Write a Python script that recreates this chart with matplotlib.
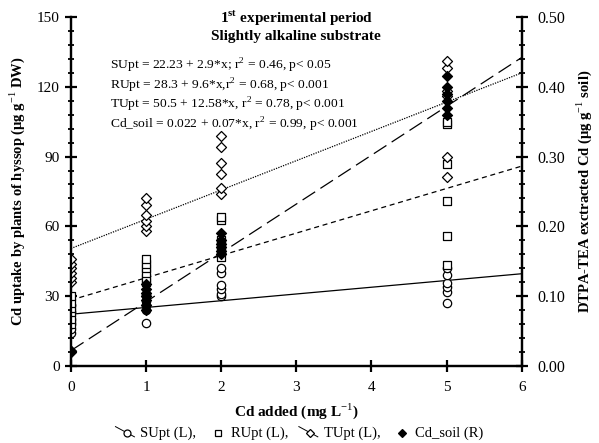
import matplotlib
matplotlib.use("Agg")
import matplotlib.pyplot as plt
from matplotlib.ticker import MultipleLocator, FormatStrFormatter
from matplotlib.lines import Line2D
import numpy as np

plt.rcParams['font.family'] = ['Liberation Serif', 'DejaVu Serif']
plt.rcParams['mathtext.fontset'] = 'custom'
plt.rcParams['mathtext.rm'] = 'Liberation Serif'
plt.rcParams['mathtext.bf'] = 'Liberation Serif:bold'

# Cd added levels of each sample group
doses = [0, 1, 2, 5]

# shoot uptake (circles, left axis)
supt = [[14, 16, 18, 20, 23, 26],
        [18.4, 24, 26, 28, 30, 31],
        [30, 31, 33, 35, 40, 42],
        [27, 31.7, 34, 35.6, 39, 42]]
# root uptake (squares, left axis)
rupt = [[18, 20, 23, 25, 27, 30],
        [36, 38, 40, 42, 44, 46],
        [46.7, 50, 52, 54, 62.6, 64],
        [43.3, 55.7, 70.7, 87, 104, 105]]
# total uptake (open diamonds, left axis)
tupt = [[36, 38, 40, 42, 44, 46],
        [58, 60, 62.5, 65, 69, 72],
        [73.7, 76.7, 82.7, 87.4, 94, 99],
        [81.4, 90, 116, 118, 128, 131]]
# DTPA-TEA soil Cd (filled diamonds, right axis)
cdsoil = [[0.020, 0.021, 0.022],
          [0.080, 0.088, 0.095, 0.100, 0.105, 0.110, 0.118],
          [0.160, 0.165, 0.170, 0.175, 0.180, 0.190],
          [0.360, 0.370, 0.380, 0.390, 0.400, 0.415]]

# regression lines (intercept, slope)
fit_supt = (22.23, 2.9)
fit_rupt = (28.3, 9.6)
fit_tupt = (50.5, 12.58)
fit_soil = (0.022, 0.07)

eq_lines = [r"SUpt = 22.23 + 2.9*x; r$^2$ = 0.46, p< 0.05",
            r"RUpt = 28.3 + 9.6*x,r$^2$ = 0.68, p< 0.001",
            r"TUpt = 50.5 + 12.58*x, r$^2$ = 0.78, p< 0.001",
            r"Cd_soil = 0.022 + 0.07*x, r$^2$ = 0.99, p< 0.001"]


def flat(groups):
    xs, ys = [], []
    for d, g in zip(doses, groups):
        xs += [d] * len(g)
        ys += list(g)
    return xs, ys


class DiagHandler:
    # marker with a short diagonal stroke through it, like the original legend
    def __init__(self, diag):
        self.diag = diag

    def legend_artist(self, legend, orig, fontsize, handlebox):
        x0, y0 = handlebox.xdescent, handlebox.ydescent
        w, h = handlebox.width, handlebox.height
        if self.diag:
            ln = Line2D([x0, x0 + w], [y0 + h, y0], color='black', lw=0.7,
                        transform=handlebox.get_transform())
            handlebox.add_artist(ln)
        m = Line2D([x0 + w * 0.6], [y0 + h * 0.4], ls='none', marker=orig.get_marker(),
                   mfc=orig.get_markerfacecolor(), mec='black', ms=orig.get_markersize(),
                   mew=0.9, transform=handlebox.get_transform())
        handlebox.add_artist(m)
        return m


fig = plt.figure(figsize=(5.99, 4.43), dpi=100)
ax = fig.add_axes([0.1185, 0.174, 0.7525, 0.7876])
ax2 = ax.twinx()

xl = np.array([0, 6])
mk = dict(s=36, linewidths=0.9, zorder=3)

x, y = flat(supt)
ax.scatter(x, y, marker='o', facecolors='white', edgecolors='black', **mk)
x, y = flat(rupt)
ax.scatter(x, y, marker='s', facecolors='white', edgecolors='black', **mk)
x, y = flat(tupt)
ax.scatter(x, y, marker='D', facecolors='white', edgecolors='black', s=26, linewidths=0.9, zorder=3)
x, y = flat(cdsoil)
ax2.scatter(x, y, marker='D', facecolors='black', edgecolors='black', s=26, linewidths=0.9, zorder=3)

ax.plot(xl, fit_supt[0] + fit_supt[1] * xl, color='black', lw=0.9)
ax.plot(xl, fit_rupt[0] + fit_rupt[1] * xl, color='black', lw=0.9, ls=(0, (4, 3)))
ax.plot(xl, fit_tupt[0] + fit_tupt[1] * xl, color='black', lw=0.9, ls=(0, (1, 1)))
ax2.plot(xl, fit_soil[0] + fit_soil[1] * xl, color='black', lw=0.9, ls=(0, (12, 5)))

ax.set_xlim(0, 6)
ax.set_ylim(0, 150)
ax2.set_ylim(0, 0.5)
ax.xaxis.set_major_locator(MultipleLocator(1))
ax.yaxis.set_major_locator(MultipleLocator(30))
ax.yaxis.set_minor_locator(MultipleLocator(6))
ax2.yaxis.set_major_locator(MultipleLocator(0.1))
ax2.yaxis.set_minor_locator(MultipleLocator(0.02))
ax2.yaxis.set_major_formatter(FormatStrFormatter('%.2f'))

for a in (ax, ax2):
    for s in a.spines.values():
        s.set_linewidth(1.6)
    a.spines['top'].set_visible(False)
    a.tick_params(which='major', direction='inout', length=9, width=1.6, labelsize=11)
    a.tick_params(which='minor', direction='inout', length=5, width=1.3)
ax.tick_params(axis='x', pad=6)
ax2.tick_params(axis='y', which='major', pad=7, labelsize=11.5)

ax.set_xlabel(r"Cd added (mg L$^{-1}$)", fontsize=11, fontweight='bold', labelpad=6)
ax.set_ylabel(r"Cd uptake by plants of hyssop ($\mathbf{\mu}$g g$^{-1}$ DW)",
              fontsize=10.5, fontweight='bold', labelpad=7)
ax2.set_ylabel(r"DTPA-TEA exctracted Cd ($\mathbf{\mu}$g g$^{-1}$ soil)",
               fontsize=10.5, fontweight='bold', labelpad=6)

ax.text(0.5, 0.997, r"1$^{\mathbf{st}}$ experimental period", transform=ax.transAxes,
        ha='center', va='center', fontsize=11, fontweight='bold')
ax.text(0.5, 0.943, "Slightly alkaline substrate", transform=ax.transAxes,
        ha='center', va='center', fontsize=11, fontweight='bold')
for i, t in enumerate(eq_lines):
    ax.text(0.086, 0.86 - i * 0.056, t, transform=ax.transAxes,
            ha='left', va='center', fontsize=9.7)

handles = [Line2D([], [], ls='none', marker='o', mfc='white', mec='black', ms=5),
           Line2D([], [], ls='none', marker='s', mfc='white', mec='black', ms=5),
           Line2D([], [], ls='none', marker='D', mfc='white', mec='black', ms=4),
           Line2D([], [], ls='none', marker='D', mfc='black', mec='black', ms=4)]
labels = ["SUpt (L),", "RUpt (L),", "TUpt (L),", "Cd_soil (R)"]
hmap = {handles[0]: DiagHandler(True), handles[1]: DiagHandler(False),
        handles[2]: DiagHandler(True), handles[3]: DiagHandler(False)}
fig.legend(handles, labels, loc='center', bbox_to_anchor=(0.5, 0.022), ncol=4,
           frameon=False, fontsize=10.5, handletextpad=0.4, columnspacing=0.7,
           handlelength=1.3, handler_map=hmap)

fig.savefig("out.png", dpi=100)
